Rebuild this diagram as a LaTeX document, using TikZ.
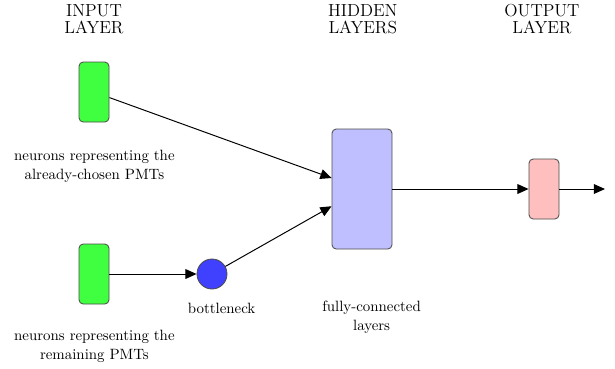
\documentclass[tikz,border=0pt]{standalone}
\usetikzlibrary{arrows.meta}
\tikzset{
  layer/.style={draw=black!70,rounded corners=3pt,minimum width=0.75cm,minimum height=1.5cm},
  neuron/.style={draw=black!70,circle,fill=blue!75,minimum size=0.75cm,inner sep=0pt},
  caption/.style={align=center,font=\fontsize{12.4}{12}\selectfont},
  note/.style={align=center,font=\fontsize{10.6}{13.5}\selectfont}
}
\begin{document}
\begin{tikzpicture}[>={Triangle[length=8pt,width=7pt]},line width=0.7pt]
      \useasboundingbox (0,0) rectangle (15.375,-9.2);
      \draw
        (2.35,-2.3) node[layer,fill=green!75,semithick] (in1){}
        (2.35,-6.85) node[layer,fill=green!75,semithick] (in2){}
        (5.3,-6.85) node[neuron,semithick] (bn){}
        (9.05,-4.725) node[layer,fill=blue!25,semithick,minimum width=1.5cm,minimum height=3cm] (hid){}
        (13.6,-4.725) node[layer,fill=red!25,semithick] (out){};
      \coordinate (end) at (15.125,-4.725);
      \draw
        (2.35,-0.47) node[caption] (tin){INPUT\\LAYER}
        (9.07,-0.47) node[caption] (thid){HIDDEN\\LAYERS}
        (13.55,-0.47) node[caption] (tout){OUTPUT\\LAYER}
        (2.36,-4.15) node[note] (lin1){neurons representing the\\already-chosen PMTs}
        (2.36,-8.65) node[note] (lin2){neurons representing the\\remaining PMTs}
        (5.54,-7.72) node[note] (lbn){bottleneck}
        (9.29,-7.93) node[note] (lhid){fully-connected\\layers};
      \begin{scope}[->]
        \draw (in1) to (hid);
        \draw (in2) to (bn);
        \draw (bn) to (hid);
        \draw (hid) to (out);
        \draw (out) to (end);
      \end{scope}
    \end{tikzpicture}
\end{document}
